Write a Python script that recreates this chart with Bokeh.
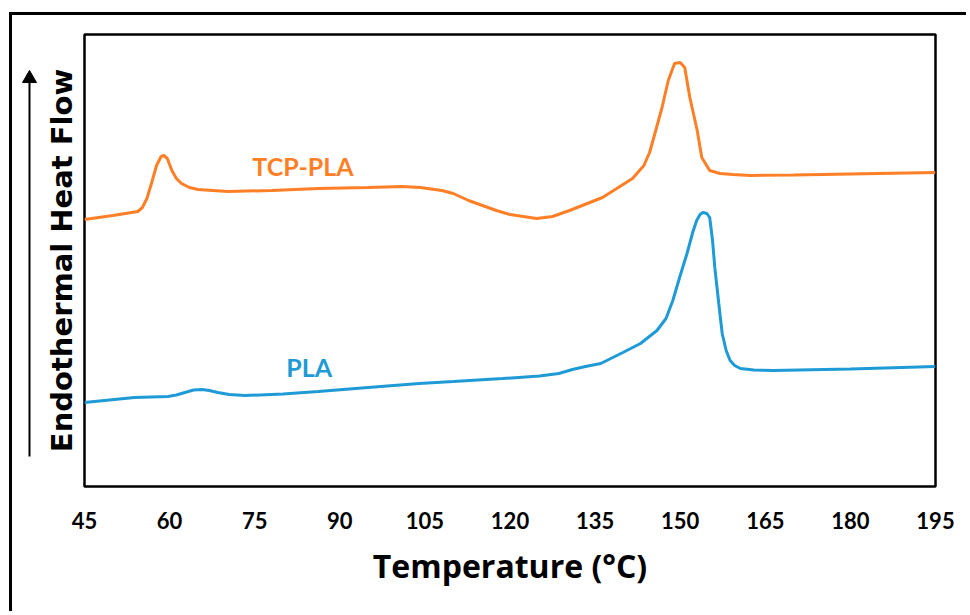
from bokeh.plotting import figure
from bokeh.layouts import row
from bokeh.models import Range1d, FixedTicker, Label
from bokeh.embed import file_html
from bokeh.resources import INLINE

# Temperature (°C) and heat flow (arbitrary units, endo up)
tcp_T = [45, 50, 54.4, 55.2, 56.0, 56.8, 57.7, 58.5, 59.0, 59.6, 60.4, 61.2, 62.1, 63.5, 65,
         70.3, 78, 86.2, 95, 101, 104.2, 108, 110, 112.7, 117.6, 120, 124.7, 127.5, 130.5,
         136.3, 141.6, 143.6, 144.6, 145.2, 146.8, 147.9, 149, 150, 150.8, 151.7, 153, 153.8,
         155.2, 157, 159.3, 162.3, 170, 180, 195]
tcp_HF = [267, 271, 275, 279, 288, 303, 321, 330, 331, 328, 316, 308, 303, 299, 297,
          295, 296, 298, 299, 300, 299, 296, 293, 286, 276, 272, 268, 270, 276,
          289, 308, 321, 334, 346, 379, 406, 423, 424, 419, 389, 356, 329,
          316, 313, 312, 311, 311.5, 312.5, 314]

pla_T = [45, 53.8, 59.7, 61.2, 62.7, 64.2, 65.7, 67, 68.5, 70.5, 73.3, 80, 86.2, 95, 104, 110,
         118.7, 125.2, 128.6, 131, 133.3, 136, 139.9, 143, 145.9, 147.5, 148.7, 150, 151.2,
         152.2, 152.9, 153.5, 154, 154.7, 155.2, 155.7, 156.1, 156.8, 157.4, 158.1, 158.8,
         159.6, 160.6, 163, 166.4, 180, 195]
pla_HF = [84, 89, 90, 91.5, 94, 96.5, 97, 96, 94, 92, 91, 92.5, 95, 99, 103, 105,
          108, 110.5, 113, 117, 120, 123, 134, 143, 156, 168, 186, 211, 233,
          254, 266, 272, 274, 273, 269, 246, 219, 183, 153, 136, 126,
          121, 118, 116.5, 116, 117.5, 120]

x_ticks = [45, 60, 75, 90, 105, 120, 135, 150, 165, 180, 195]

ORANGE = "#FF7F27"
BLUE = "#1E9AD6"
FONT = "Lato"
H = 596
Y_RANGE = (0, 452)

# narrow strip on the left carrying the "heat flow up" arrow (frame aligned with main plot)
arrow_fig = figure(width=28, height=H, output_backend="svg", toolbar_location=None,
                   x_axis_type=None, y_axis_type=None, min_border=0,
                   x_range=Range1d(0, 28), y_range=Range1d(*Y_RANGE))
arrow_fig.outline_line_color = None
arrow_fig.grid.visible = False
arrow_fig.segment(x0=[17], y0=[30], x1=[17], y1=[405], line_color="black", line_width=2)
arrow_fig.scatter(x=[17], y=[408], marker="triangle", size=14,
                  fill_color="black", line_color="black")

p = figure(width=926, height=H, output_backend="svg", toolbar_location=None,
           x_range=Range1d(45, 195), y_range=Range1d(*Y_RANGE),
           min_border_left=44, min_border_right=31, min_border_top=19, min_border_bottom=125)

p.grid.visible = False
p.outline_line_color = "black"
p.outline_line_width = 2.5
p.outline_line_alpha = 1.0

p.line(tcp_T, tcp_HF, line_color=ORANGE, line_width=3)
p.line(pla_T, pla_HF, line_color=BLUE, line_width=3)

ax = p.xaxis[0]
ax.ticker = FixedTicker(ticks=x_ticks)
ax.axis_line_color = None
ax.major_tick_line_color = None
ax.minor_tick_line_color = None
ax.major_label_text_font = FONT
ax.major_label_text_font_style = "bold"
ax.major_label_text_font_size = "22px"
ax.major_label_text_color = "black"
ax.major_label_standoff = 19
ax.axis_label = "Temperature (°C)"
ax.axis_label_text_font = "Open Sans"
ax.axis_label_text_font_style = "bold"
ax.axis_label_text_font_size = "32px"
ax.axis_label_text_color = "black"
ax.axis_label_standoff = 12

ay = p.yaxis[0]
ay.ticker = FixedTicker(ticks=[])
ay.axis_line_color = None
ay.major_tick_line_color = None
ay.minor_tick_line_color = None
ay.major_label_text_font_size = "0px"
ay.axis_label = "Endothermal Heat Flow"
ay.axis_label_text_font = "DejaVu Sans"
ay.axis_label_text_font_style = "bold"
ay.axis_label_text_font_size = "29px"
ay.axis_label_text_color = "black"
ay.axis_label_standoff = 6

p.add_layout(Label(x=83.5, y=321, text="TCP-PLA", text_color=ORANGE, text_font=FONT,
                   text_font_style="bold", text_font_size="25px",
                   text_align="center", text_baseline="middle"))
p.add_layout(Label(x=84.6, y=120, text="PLA", text_color=BLUE, text_font=FONT,
                   text_font_style="bold", text_font_size="25px",
                   text_align="center", text_baseline="middle"))

layout = row(arrow_fig, p)
layout.margin = (12, 0, 0, 9)
layout.styles = {"border-left": "3px solid black", "border-top": "3px solid black"}

open("out.html", "w").write(file_html(layout, INLINE))
